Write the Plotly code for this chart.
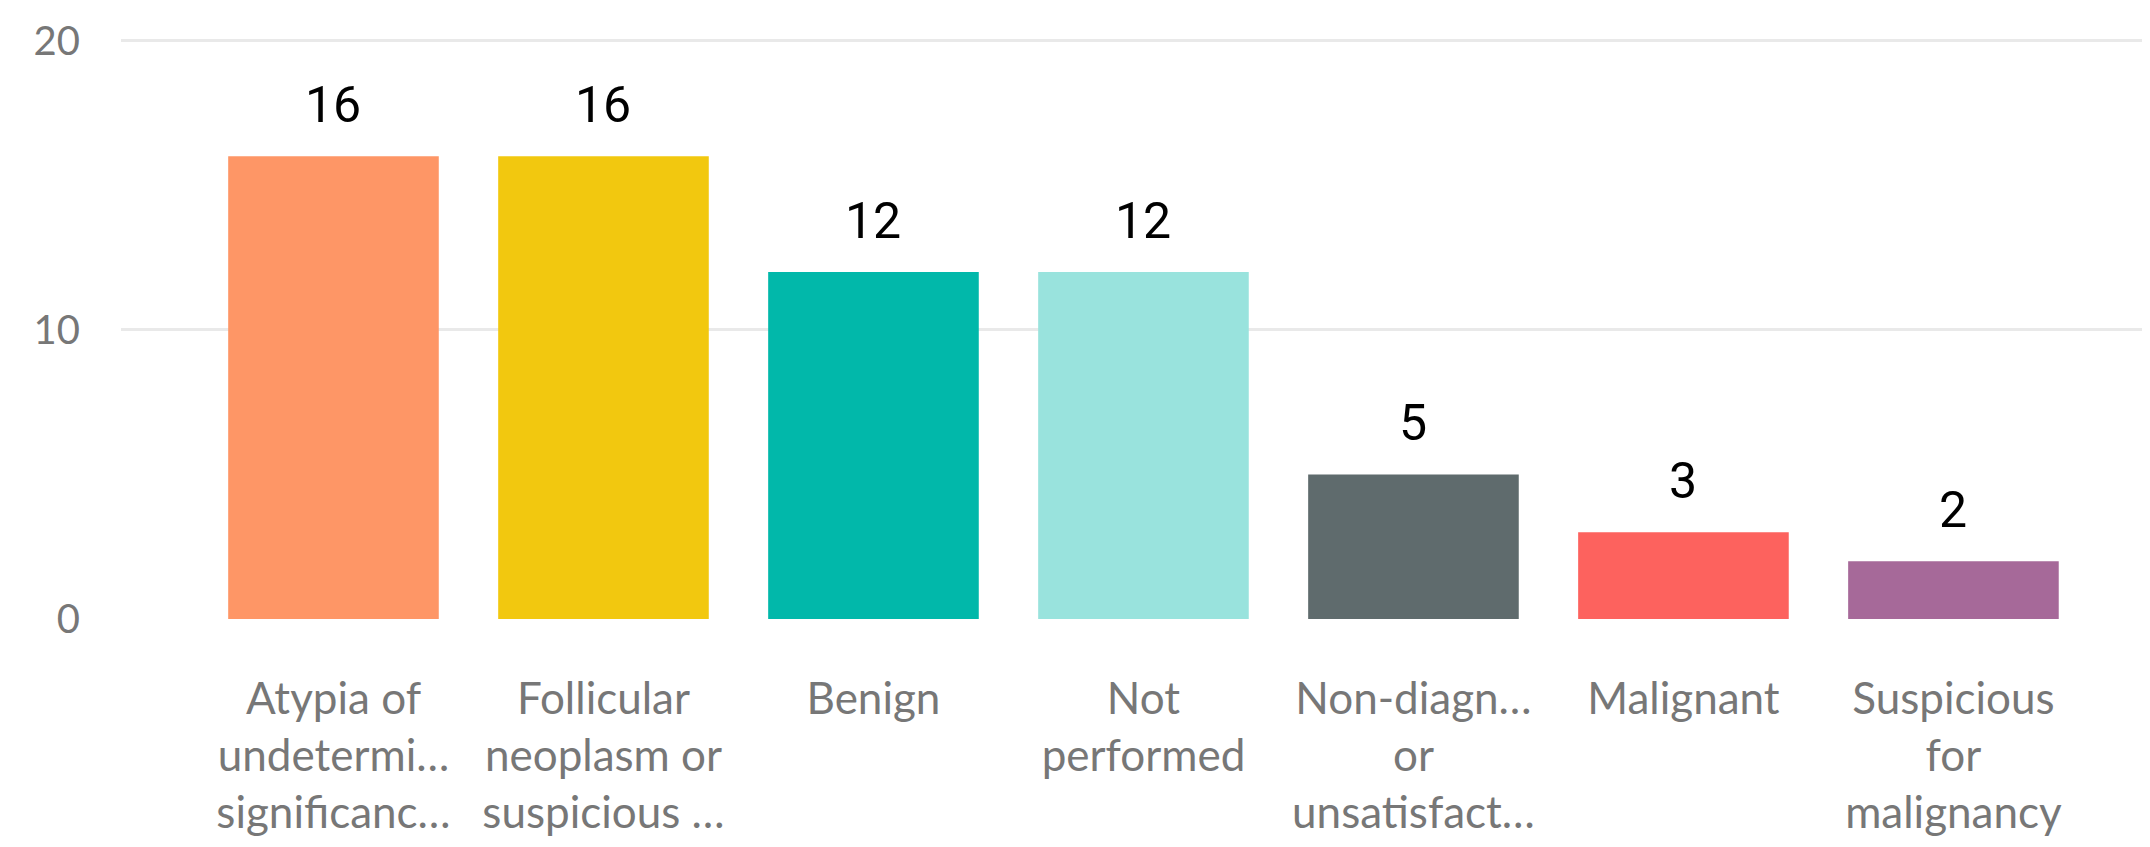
import plotly.graph_objects as go

categories = [
    "Atypia of<br>undetermi…<br>significanc…",
    "Follicular<br>neoplasm or<br>suspicious …",
    "Benign",
    "Not<br>performed",
    "Non-diagn…<br>or<br>unsatisfact…",
    "Malignant",
    "Suspicious<br>for<br>malignancy",
]
values = [16, 16, 12, 12, 5, 3, 2]
colors = ["#FE9666", "#F2C80F", "#01B8AA", "#99E3DD", "#5F6B6D", "#FD625E", "#A66999"]
y_ticks = [0, 10, 20]

fig = go.Figure()
fig.add_trace(go.Bar(x=categories, y=values, marker=dict(color=colors, line=dict(width=0)),
                     hoverinfo="skip"))

for c, v in zip(categories, values):
    fig.add_annotation(x=c, y=v, text=str(v), showarrow=False, yanchor="bottom",
                       yshift=20, font=dict(family="Roboto", size=50, color="#000000"))

fig.update_layout(
    width=2150, height=847,
    margin=dict(l=113, r=8, t=18, b=236),
    paper_bgcolor="white", plot_bgcolor="white",
    bargap=0.22, showlegend=False,
    font=dict(family="Lato", color="#777777"),
)
fig.update_xaxes(type="category", range=[-0.787, 6.728], showgrid=False, zeroline=False,
                 showline=False, ticks="", tickangle=0,
                 tickfont=dict(family="Lato", size=44, color="#777777"),
                 ticklabelstandoff=50)
fig.update_yaxes(range=[0, 20.3], tickvals=y_ticks, showgrid=True, gridcolor="#E9E9E9",
                 gridwidth=3, zeroline=False, showline=False, ticks="",
                 tickfont=dict(family="Lato", size=40, color="#777777"),
                 ticklabelstandoff=40)

fig.write_html("out.html")
